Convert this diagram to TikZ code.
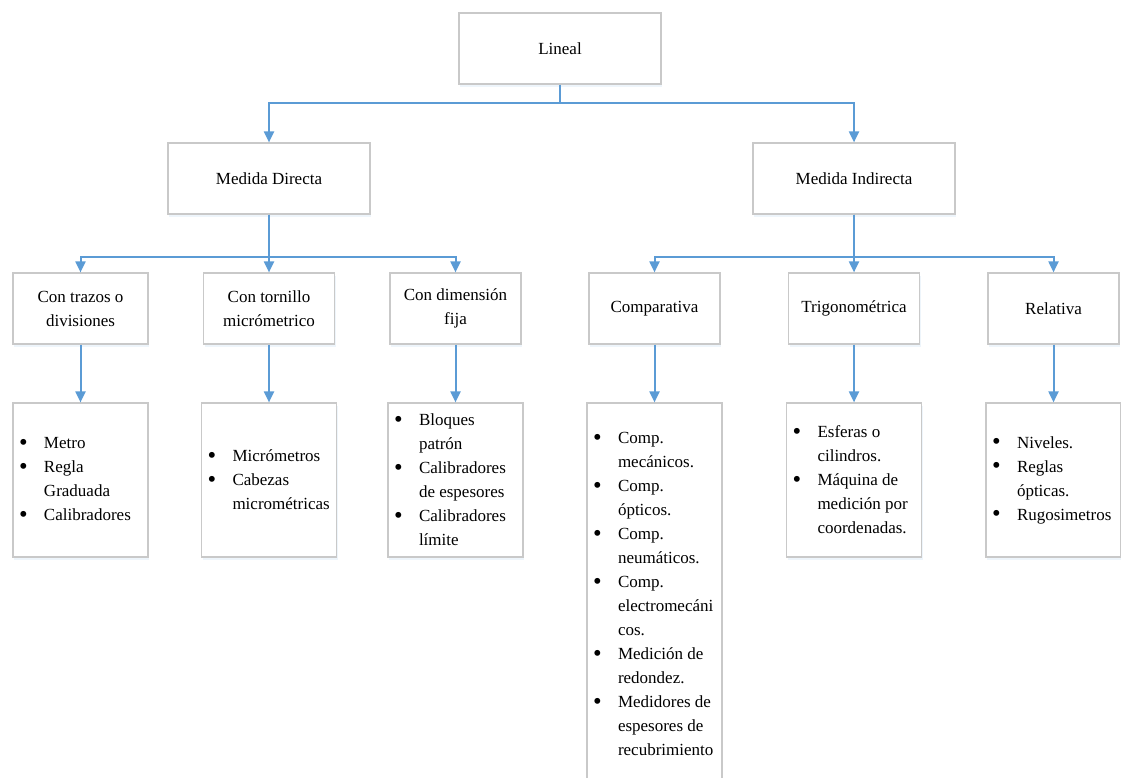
\documentclass[tikz,border=0pt]{standalone}
\usepackage{fontspec}
\usepackage{graphicx}
\setmainfont{Liberation Serif}
\usetikzlibrary{arrows.meta, shadows, positioning}

\definecolor{linkblue}{HTML}{5B9BD5}
\definecolor{boxgray}{HTML}{C9C9C9}

\newcommand{\bi}{\makebox[28pt][l]{\hspace{3pt}\raisebox{-1.5pt}{\scalebox{1.45}{\textbullet}}}}
\newcommand{\ci}{\makebox[28pt]{}}

\tikzset{
    box/.style={draw=boxgray, line width=1.2pt, fill=white,
        drop shadow={opacity=0.10, shadow xshift=1pt, shadow yshift=-2.5pt, fill=linkblue},
        font=\fontsize{17}{24}\selectfont},
    head/.style={box, minimum width=202pt, minimum height=71pt},
    cat/.style={box, minimum width=131pt, minimum height=71pt, align=center, inner sep=2pt},
    leaf/.style={box, text width=129pt, inner xsep=3pt, minimum height=154pt, align=flush left},
    link/.style={draw=linkblue, line width=2pt, -{Triangle[width=10pt, length=11pt]}},
}

\begin{document}
\begin{tikzpicture}[x=1pt, y=-1pt]
    \clip (0, 0) rectangle (1121, 777);

    \node[head] (lin) at (560, 48.5) {Lineal};

    \node[head] (md) at (269, 178.5) {Medida Directa};
    \node[head] (mi) at (854, 178.5) {Medida Indirecta};

    \node[cat, minimum width=135pt] (trazos) at (80.5, 308.5) {Con trazos o\\divisiones};
    \node[cat] (tornillo) at (269, 308.5) {Con tornillo\\micrómetrico};
    \node[cat] (fija) at (455.5, 308.5) {Con dimensión\\fija};
    \node[cat] (comp) at (654.5, 308.5) {Comparativa};
    \node[cat] (trig) at (854, 308.5) {Trigonométrica};
    \node[cat] (rel) at (1053.5, 308.5) {Relativa};

    \node[leaf] (l1) at (80.5, 480) {\bi Metro\\ \bi Regla\\ \ci Graduada\\ \bi Calibradores};
    \node[leaf] (l2) at (269, 480) {\bi Micrómetros\\ \bi Cabezas\\ \ci micrométricas};
    \node[leaf] (l3) at (455.5, 480) {\bi Bloques\\ \ci patrón\\ \bi Calibradores\\ \ci de espesores\\ \bi Calibradores\\ \ci límite};
    \node[leaf, minimum height=382pt] (l4) at (654.5, 594) {\bi Comp.\\ \ci mecánicos.\\ \bi Comp.\\ \ci ópticos.\\ \bi Comp.\\ \ci neumáticos.\\ \bi Comp.\\ \ci electromecáni\\ \ci cos.\\ \bi Medición de\\ \ci redondez.\\ \bi Medidores de\\ \ci espesores de\\ \ci recubrimiento};
    \node[leaf] (l5) at (854, 480) {\bi Esferas o\\ \ci cilindros.\\ \bi Máquina de\\ \ci medición por\\ \ci coordenadas.};
    \node[leaf] (l6) at (1053.5, 480) {\bi Niveles.\\ \bi Reglas\\ \ci ópticas.\\ \bi Rugosimetros};

    \draw[link] (lin.south) -- ++(0, 18) -| (md.north);
    \draw[link] (lin.south) -- ++(0, 18) -| (mi.north);

    \foreach \c in {trazos, tornillo, fija}
        \draw[link] (md.south) -- ++(0, 42) -| (\c.north);
    \foreach \c in {comp, trig, rel}
        \draw[link] (mi.south) -- ++(0, 42) -| (\c.north);

    \draw
    (trazos) edge[link] (l1)
    (tornillo) edge[link] (l2)
    (fija) edge[link] (l3)
    (comp) edge[link] (l4)
    (trig) edge[link] (l5)
    (rel) edge[link] (l6);
\end{tikzpicture}
\end{document}
